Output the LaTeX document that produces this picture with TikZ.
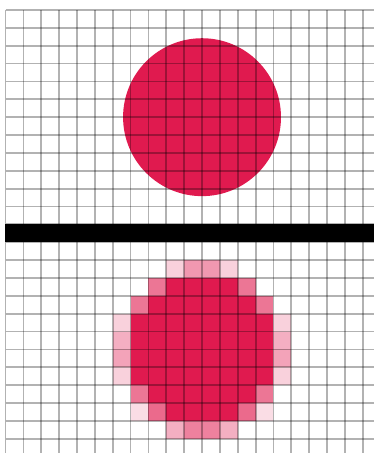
\documentclass[tikz,border=0pt]{standalone}
\definecolor{dotred}{RGB}{224,26,79}

\begin{document}
\begin{tikzpicture}[x=0.5cm, y=0.5cm,
  gridline/.style={black, opacity=0.3, line width=1.4pt},
  pixel/.style={fill=dotred}]
  \useasboundingbox (-0.31,0.56) rectangle (20.63,-24.8);
  \coordinate (O) at (11,-6);

  % smooth circle
  \fill[dotred] (O) circle (4.42);

  % rasterised circle: full cells, row by row
  \foreach \r/\a/\b in {15/9/13, 16/8/14, 17/7/15, 18/7/15,
                        19/7/15, 20/7/15, 21/8/14, 22/9/13}
    \fill[pixel] (\a,-\r) rectangle (\b,-\r-1);
  % edge cells, partly covered
  \foreach \c/\r/\o in {9/14/0.2, 10/14/0.45, 11/14/0.45, 12/14/0.2,
                        8/15/0.6, 13/15/0.6, 7/16/0.6, 14/16/0.6,
                        6/17/0.2, 15/17/0.2, 6/18/0.35, 15/18/0.35,
                        6/19/0.4, 15/19/0.4, 6/20/0.2, 15/20/0.2,
                        7/21/0.6, 14/21/0.6, 7/22/0.15, 8/22/0.65,
                        13/22/0.65, 14/22/0.15, 9/23/0.35, 10/23/0.55,
                        11/23/0.55, 12/23/0.35}
    \fill[pixel, fill opacity=\o] (\c,-\r) rectangle ++(1,-1);

  % grid
  \foreach \i in {0,...,20}
    \draw[gridline] (\i,0) -- (\i,-24.8);
  \foreach \j in {0,...,24}
    \draw[gridline] (0,-\j) -- (20.63,-\j);

  % divider
  \fill[black] (-0.05,-12) rectangle (20.63,-13);
\end{tikzpicture}
\end{document}
